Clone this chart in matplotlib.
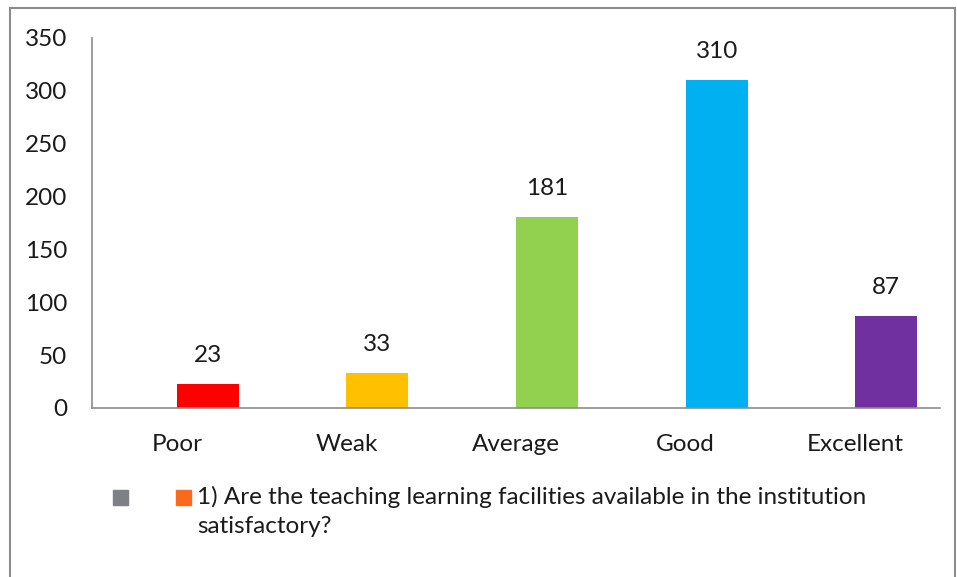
import matplotlib
matplotlib.use("Agg")
import matplotlib.pyplot as plt
from matplotlib.patches import Rectangle

categories = ["Poor", "Weak", "Average", "Good", "Excellent"]
values = [23, 33, 181, 310, 87]
colors = ["#FF0000", "#FFC000", "#92D050", "#00B0F0", "#7030A0"]
yticks = [0, 50, 100, 150, 200, 250, 300, 350]
legend_text = "1) Are the teaching learning facilities available in the institution\nsatisfactory?"

plt.rcParams['font.family'] = ['Lato', 'DejaVu Sans']
FS = 17.5

W, H = 957, 577
fig = plt.figure(figsize=(W/100, H/100), dpi=100)
ax = fig.add_axes([92/W, 1-408/H, (940-92)/W, (408-38)/H])

x = list(range(len(categories)))
ax.bar(x, values, width=0.366, align='edge', color=colors)
for xi, v in zip(x, values):
    ax.annotate(str(v), (xi + 0.183, v), xytext=(0, 13), textcoords='offset points',
                ha='center', va='bottom', fontsize=FS, color='#1a1a1a')

ax.set_xlim(-0.5, len(categories) - 0.5)
ax.set_ylim(0, 350)
ax.set_yticks(yticks)
ax.set_xticks(x)
ax.set_xticklabels(categories)
ax.tick_params(axis='both', length=0, labelsize=FS, colors='#1a1a1a')
ax.tick_params(axis='y', pad=18)
ax.tick_params(axis='x', pad=18.5)
for s in ['top', 'right']:
    ax.spines[s].set_visible(False)
for s in ['left', 'bottom']:
    ax.spines[s].set_color('#8c8c8c')
    ax.spines[s].set_linewidth(1.2)

# legend drawn manually
fig.patches.append(Rectangle((113/W, 1-505/H), 15/W, 15/H, transform=fig.transFigure,
                             color='#7F7F86'))
fig.patches.append(Rectangle((176/W, 1-505/H), 15/W, 15/H, transform=fig.transFigure,
                             color='#FA6A1A'))
fig.text(197/W, 1-486/H, legend_text, ha='left', va='top', fontsize=FS,
         color='#1a1a1a', linespacing=1.45)

# outer border
fig.patches.append(Rectangle((10/W, -0.02), 945/W, 1-8/H+0.02, transform=fig.transFigure,
                             fill=False, edgecolor='#8c8c8c', linewidth=1.5))

fig.savefig("out.png", dpi=100)
